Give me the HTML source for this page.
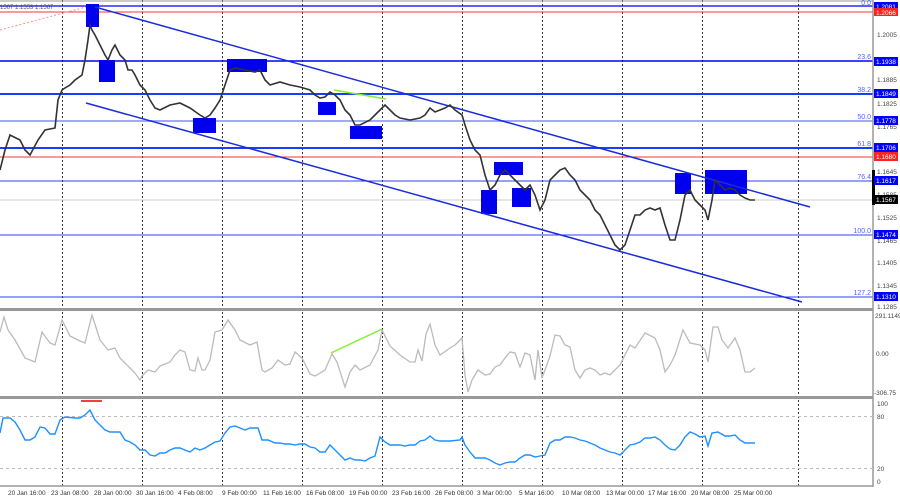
<!DOCTYPE html>
<html><head><meta charset="utf-8"><style>
html,body{margin:0;padding:0;background:#fff;}
svg{display:block;font-family:"Liberation Sans",sans-serif;}
</style></head><body>
<svg width="900" height="500" viewBox="0 0 900 500" xmlns="http://www.w3.org/2000/svg">
<rect width="900" height="500" fill="#fff"/>
<g stroke="#333" stroke-width="1" stroke-dasharray="2,2">
<line x1="62.5" y1="0" x2="62.5" y2="486"/><line x1="142.5" y1="0" x2="142.5" y2="486"/>
<line x1="222.5" y1="0" x2="222.5" y2="486"/><line x1="302.5" y1="0" x2="302.5" y2="486"/>
<line x1="382.5" y1="0" x2="382.5" y2="486"/><line x1="462.5" y1="0" x2="462.5" y2="486"/>
<line x1="542.5" y1="0" x2="542.5" y2="486"/><line x1="622.5" y1="0" x2="622.5" y2="486"/>
<line x1="702.5" y1="0" x2="702.5" y2="486"/><line x1="798.5" y1="0" x2="798.5" y2="486"/>
</g>
<line x1="0" y1="1" x2="873" y2="1" stroke="#999"/>
<line x1="0" y1="6" x2="873" y2="6" stroke="#0000ff" stroke-width="1.2"/>
<line x1="0" y1="12" x2="873" y2="12" stroke="#ff3030"/>
<line x1="0" y1="61" x2="873" y2="61" stroke="#0000ff" stroke-width="1.5"/>
<line x1="0" y1="94" x2="873" y2="94" stroke="#1a3cff" stroke-width="2"/>
<line x1="0" y1="121" x2="873" y2="121" stroke="#a0a8ff" stroke-width="2"/>
<line x1="0" y1="148" x2="873" y2="148" stroke="#1a3cff" stroke-width="2"/>
<line x1="0" y1="157" x2="873" y2="157" stroke="#ff3030"/>
<line x1="0" y1="181" x2="873" y2="181" stroke="#3040ff"/>
<line x1="0" y1="200" x2="873" y2="200" stroke="#ccc"/>
<line x1="0" y1="235" x2="873" y2="235" stroke="#3040ff"/>
<line x1="0" y1="297" x2="873" y2="297" stroke="#3040ff"/>
<line x1="0" y1="30" x2="86" y2="7" stroke="#ff9090" stroke-dasharray="2,2"/>
<text x="0" y="9" font-size="6" fill="#555">1567 1.1553 1.1567</text>
<g font-size="7" fill="#5060ff" text-anchor="end">
<text x="871" y="5">0.0</text><text x="871" y="59">23.6</text><text x="871" y="92">38.2</text>
<text x="871" y="119">50.0</text><text x="871" y="146">61.8</text><text x="871" y="179">76.4</text>
<text x="871" y="233">100.0</text><text x="871" y="295">127.2</text>
</g>
<g fill="#0000ee">
<rect x="86" y="4" width="13" height="23"/><rect x="99" y="60" width="16" height="22"/>
<rect x="193" y="118" width="23" height="15"/><rect x="227" y="59" width="40" height="13"/>
<rect x="318" y="102" width="18" height="13"/><rect x="350" y="126" width="32" height="13"/>
<rect x="481" y="190" width="16" height="24"/><rect x="494" y="162" width="29" height="13"/>
<rect x="512" y="188" width="19" height="19"/><rect x="675" y="173" width="16" height="21"/>
<rect x="705" y="170" width="42" height="24"/>
</g>
<line x1="95" y1="7" x2="810" y2="207" stroke="#1a2cdd" stroke-width="1.5"/>
<line x1="86" y1="103" x2="802" y2="302" stroke="#1a2cdd" stroke-width="1.5"/>
<line x1="334" y1="90" x2="386" y2="99" stroke="#88ee33" stroke-width="1.5"/>
<polyline fill="none" stroke="#333" stroke-width="1.6" points="0,170 5,150 10,135 20,140 25,150 30,155 38,140 45,130 55,128 58,100 62,90 65,88 70,85 75,80 82,75 85,60 88,40 90,25 92,30 95,35 100,45 105,55 108,60 112,50 115,45 120,55 125,60 128,70 132,70 135,75 140,85 145,90 150,100 155,108 160,110 170,105 180,103 190,108 200,115 205,118 210,115 215,108 220,100 225,85 230,70 235,68 245,70 255,72 260,70 265,80 270,85 280,82 290,85 300,87 310,90 315,95 320,98 325,97 330,92 335,95 340,100 345,110 350,115 355,125 360,125 370,120 375,115 380,110 385,105 390,110 395,115 400,118 410,120 420,118 425,115 430,108 435,112 440,110 445,108 450,105 455,110 462,115 465,125 470,140 475,150 480,155 485,175 490,190 495,185 500,175 505,170 510,175 515,180 520,185 525,190 530,185 535,195 540,210 545,200 550,180 555,175 560,170 565,168 570,175 575,180 580,190 585,195 590,200 595,210 600,215 605,225 610,235 615,245 620,250 625,245 630,230 635,215 640,215 645,210 650,208 655,210 660,208 665,225 670,240 675,240 680,220 685,195 690,190 695,200 700,205 705,210 708,220 712,200 715,180 720,185 725,190 730,188 735,190 740,195 745,198 750,200 755,200"/>
<rect x="0" y="308" width="873" height="3" fill="#999"/>
<rect x="0" y="396" width="873" height="3" fill="#999"/>
<line x1="0" y1="486" x2="873" y2="486" stroke="#999" stroke-width="1.5"/>
<line x1="873" y1="0" x2="873" y2="487" stroke="#999" stroke-width="1.5"/>
<rect x="872" y="170" width="3" height="35" fill="#000"/>
<polyline fill="none" stroke="#bbb" stroke-width="1.3" points="0,332 4,317 8,330 15,340 25,358 35,362 42,332 50,343 55,345 62,320 70,336 80,341 85,343 92,315 100,340 108,350 115,348 120,358 125,363 130,368 135,373 140,380 142,376 148,370 155,372 160,366 170,362 175,355 180,350 185,352 190,370 195,371 198,358 202,370 205,370 210,360 215,332 222,330 228,320 235,330 240,340 250,345 257,342 262,370 265,372 272,368 278,360 285,365 290,364 295,352 302,358 310,374 315,376 325,370 332,354 337,362 345,387 350,372 355,365 360,370 370,365 378,350 382,330 390,346 400,355 410,362 415,362 418,350 422,361 426,334 430,324 435,345 440,355 450,348 455,345 462,338 465,375 468,392 472,380 478,370 485,375 490,374 495,367 500,365 505,358 510,352 515,353 520,367 525,353 530,355 535,380 538,350 542,378 545,370 550,356 555,335 560,336 565,345 570,347 575,370 580,378 585,370 590,368 595,370 600,375 605,373 610,375 620,365 625,355 630,345 635,348 645,333 655,338 660,350 665,372 670,365 675,355 683,330 690,343 700,345 705,350 708,362 713,327 718,327 722,340 728,348 735,338 740,350 745,372 750,372 755,368"/>
<line x1="331" y1="353" x2="382" y2="329" stroke="#88ee33" stroke-width="1.5"/>
<line x1="0" y1="416.5" x2="873" y2="416.5" stroke="#bbb" stroke-dasharray="3,3"/>
<line x1="0" y1="468.5" x2="873" y2="468.5" stroke="#bbb" stroke-dasharray="3,3"/>
<line x1="81" y1="401" x2="102" y2="401" stroke="#ee0000" stroke-width="1.5"/>
<polyline fill="none" stroke="#1e90ff" stroke-width="1.4" points="0,433 3,418 10,418 15,422 20,430 25,440 30,440 35,437 40,427 45,428 50,434 55,434 60,420 65,417 75,418 80,418 85,415 90,410 95,420 100,425 105,430 110,432 115,432 120,432 125,440 130,442 135,445 140,450 145,450 150,455 155,456 160,453 165,453 170,450 175,448 180,448 185,450 190,452 195,448 200,450 205,448 210,445 215,442 220,441 225,433 230,427 235,426 240,428 245,430 250,428 258,428 262,440 268,440 275,443 280,443 285,444 290,444 295,445 300,444 305,444 310,447 315,448 320,452 325,452 330,445 335,450 340,455 345,460 350,458 355,460 360,460 365,461 370,458 375,456 380,437 385,442 390,445 400,445 405,446 410,445 415,445 420,441 425,440 430,436 435,440 440,441 450,441 460,440 462,437 465,445 470,452 475,458 480,458 485,458 490,460 495,463 500,465 505,463 510,462 515,462 520,458 525,455 530,455 535,457 540,456 545,455 550,443 555,440 560,440 565,437 570,437 575,438 580,440 585,441 590,443 595,445 600,448 610,452 615,453 620,455 625,450 630,445 635,444 640,442 645,438 650,438 655,437 660,440 665,445 670,449 675,450 680,445 685,437 690,432 695,434 700,437 705,436 708,446 712,433 718,432 725,436 730,436 735,435 740,440 745,443 750,443 755,443"/>
<g font-size="6.5" fill="#444">
<text x="877" y="37">1.2005</text><text x="877" y="82">1.1885</text><text x="877" y="106">1.1825</text>
<text x="877" y="129">1.1765</text><text x="877" y="174">1.1645</text><text x="877" y="197">1.1585</text>
<text x="877" y="220">1.1525</text><text x="877" y="243">1.1465</text><text x="877" y="265">1.1405</text>
<text x="877" y="288">1.1345</text><text x="877" y="309">1.1285</text>
<text x="875" y="318">291.1149</text><text x="876" y="356">0.00</text><text x="874" y="395">-306.75</text>
<text x="877" y="406">100</text><text x="877" y="419">80</text><text x="877" y="471">20</text><text x="877" y="484">0</text>
</g>
<g font-size="6.5" fill="#fff">
<rect x="874" y="2" width="24" height="9" fill="#0000ff"/><text x="876" y="9">1.2081</text>
<rect x="874" y="8" width="24" height="8" fill="#ff2020"/><text x="876" y="15">1.2066</text>
<rect x="874" y="57" width="24" height="9" fill="#0000ff"/><text x="876" y="64">1.1938</text>
<rect x="874" y="89" width="24" height="9" fill="#0000ff"/><text x="876" y="96">1.1849</text>
<rect x="874" y="116" width="24" height="9" fill="#0000ff"/><text x="876" y="123">1.1778</text>
<rect x="874" y="143" width="24" height="9" fill="#0000ff"/><text x="876" y="150">1.1706</text>
<rect x="874" y="152" width="24" height="9" fill="#ff2020"/><text x="876" y="159">1.1680</text>
<rect x="874" y="176" width="24" height="9" fill="#0000ff"/><text x="876" y="183">1.1617</text>
<rect x="874" y="195" width="24" height="9" fill="#000"/><text x="876" y="202">1.1567</text>
<rect x="874" y="230" width="24" height="9" fill="#0000ff"/><text x="876" y="237">1.1474</text>
<rect x="874" y="292" width="24" height="9" fill="#0000ff"/><text x="876" y="299">1.1310</text>
</g>
<g font-size="6.5" fill="#333">
<text x="8" y="495">20 Jan 16:00</text><text x="51" y="495">23 Jan 08:00</text><text x="94" y="495">28 Jan 00:00</text>
<text x="136" y="495">30 Jan 16:00</text><text x="178" y="495">4 Feb 08:00</text><text x="222" y="495">9 Feb 00:00</text>
<text x="263" y="495">11 Feb 16:00</text><text x="306" y="495">16 Feb 08:00</text><text x="349" y="495">19 Feb 00:00</text>
<text x="392" y="495">23 Feb 16:00</text><text x="435" y="495">26 Feb 08:00</text><text x="477" y="495">3 Mar 00:00</text>
<text x="519" y="495">5 Mar 16:00</text><text x="562" y="495">10 Mar 08:00</text><text x="606" y="495">13 Mar 00:00</text>
<text x="648" y="495">17 Mar 16:00</text><text x="691" y="495">20 Mar 08:00</text><text x="734" y="495">25 Mar 00:00</text>
</g>
</svg>
</body></html>
